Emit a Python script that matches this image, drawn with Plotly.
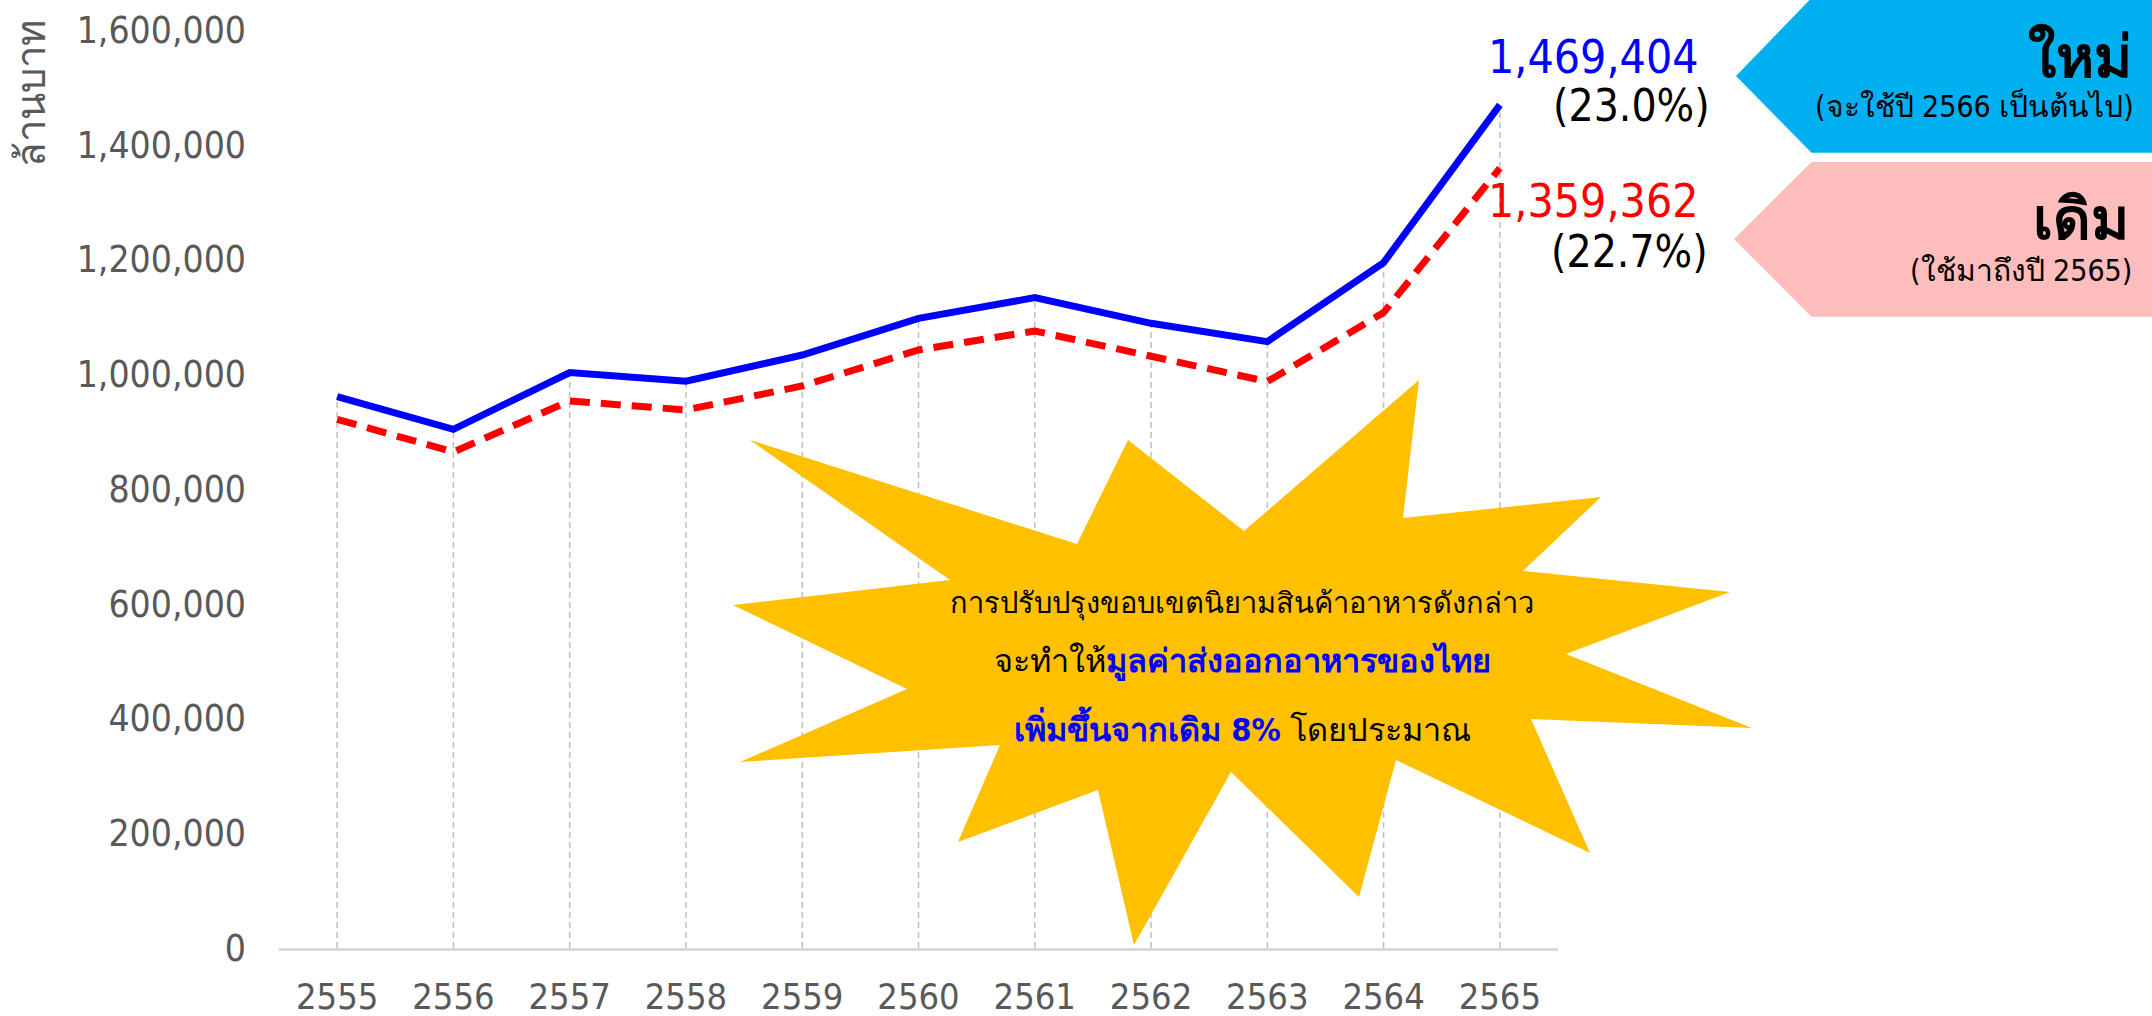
import plotly.graph_objects as go

# ---------------- data ----------------
years = ["2555", "2556", "2557", "2558", "2559", "2560", "2561", "2562", "2563", "2564", "2565"]
new_def = [961000, 904000, 1003000, 988000, 1033500, 1097500, 1133500, 1088800, 1056900, 1194600, 1469404]
old_def = [921500, 864500, 953500, 937800, 979600, 1042300, 1075400, 1030800, 987300, 1107500, 1359362]
y_ticks = [0, 200000, 400000, 600000, 800000, 1000000, 1200000, 1400000, 1600000]
y_title = "ล้านบาท"
new_label = "ใหม่"
new_sub = "(จะใช้ปี 2566 เป็นต้นไป)"
old_label = "เดิม"
old_sub = "(ใช้มาถึงปี 2565)"
star_line1 = "การปรับปรุงขอบเขตนิยามสินค้าอาหารดังกล่าว"
star_line2a = "จะทำให้"
star_line2b = "มูลค่าส่งออกอาหารของไทย"
star_line3a = "เพิ่มขึ้นจากเดิม 8%"
star_line3b = " โดยประมาณ"

# ---------------- layout geometry ----------------
W, H = 2152, 1016
PL, PR, PT, PB = 279, 1558, 30, 948  # plot area in pixels


def px(xp):
    return (xp - PL) / (PR - PL)


def py(yp):
    return (PB - yp) / (PB - PT)


FONT = "DejaVu Sans Condensed, DejaVu Sans, Noto Sans, sans-serif"
GRAY = "#595959"

fig = go.Figure()

# drop lines (from axis up to highest series)
dx, dy = [], []
for yr, a, b in zip(years, new_def, old_def):
    dx += [yr, yr, None]
    dy += [0, max(a, b), None]
fig.add_trace(go.Scatter(x=dx, y=dy, mode="lines", hoverinfo="skip",
                         line=dict(color="#BFBFBF", width=1.5, dash="6px,4px"),
                         showlegend=False))

fig.add_trace(go.Scatter(x=years, y=old_def, mode="lines", hoverinfo="skip",
                         line=dict(color="#FF0000", width=7, dash="20px,11px"),
                         showlegend=False))
fig.add_trace(go.Scatter(x=years, y=new_def, mode="lines", hoverinfo="skip",
                         line=dict(color="#0000FF", width=7),
                         showlegend=False))

# end labels
last = len(years) - 1
g_new = new_def[-1] / new_def[-2] - 1
g_old = old_def[-1] / old_def[-2] - 1
annos = [
    dict(x=last, y=new_def[-1], text=f"{new_def[-1]:,}", xanchor="right", yanchor="middle",
         xshift=201, yshift=48, font=dict(size=46, color="#0000FF", family=FONT)),
    dict(x=last, y=new_def[-1], text=f"({g_new*100:.1f}%)", xanchor="right", yanchor="middle",
         xshift=212, yshift=-1, font=dict(size=44, color="#000000", family=FONT)),
    dict(x=last, y=old_def[-1], text=f"{old_def[-1]:,}", xanchor="right", yanchor="middle",
         xshift=201, yshift=-33, font=dict(size=46, color="#FF0000", family=FONT)),
    dict(x=last, y=old_def[-1], text=f"({g_old*100:.1f}%)", xanchor="right", yanchor="middle",
         xshift=210, yshift=-83, font=dict(size=44, color="#000000", family=FONT)),
]
for a in annos:
    a.update(showarrow=False, xref="x", yref="y")
    fig.add_annotation(**a)

# y-axis title (rotated, top-left)
fig.add_annotation(x=px(31), y=py(93), xref="paper", yref="paper", text=y_title, textangle=-90,
                   showarrow=False, xanchor="center", yanchor="middle",
                   font=dict(size=40, color=GRAY, family=FONT))

# starburst
star_pts = [(750, 440), (1077, 544), (1128, 440), (1244, 531), (1419, 380), (1403, 518),
            (1601, 497), (1523, 571), (1730, 592), (1566, 654), (1752, 728), (1531, 719),
            (1590, 853), (1396, 760), (1359, 897), (1231, 772), (1134, 945), (1098, 790),
            (958, 842), (1000, 745), (740, 762), (907, 689), (733, 605), (950, 580)]
path = "M " + " L ".join(f"{px(x):.5f},{py(y):.5f}" for x, y in star_pts) + " Z"
fig.add_shape(type="path", path=path, xref="paper", yref="paper",
              fillcolor="#FFC000", line=dict(width=0), layer="above")

# banners
def banner(tip, top, bot, color):
    pts = [(tip[0], tip[1]), (1811.5, top), (W + 2, top), (W + 2, bot), (1811.5, bot)]
    p = "M " + " L ".join(f"{px(x):.5f},{py(y):.5f}" for x, y in pts) + " Z"
    fig.add_shape(type="path", path=p, xref="paper", yref="paper",
                  fillcolor=color, line=dict(width=0), layer="above")

banner((1736, 76), -2, 152.7, "#00B0F0")
banner((1734, 239), 162, 316.7, "#FDBDBD")

for txt, xr, yc, size, bold in [(new_label, 2134, 57, 58, True), (new_sub, 2136, 106, 30, False),
                                (old_label, 2131, 219, 58, True), (old_sub, 2134, 270, 30, False)]:
    fig.add_annotation(x=px(xr), y=py(yc), xref="paper", yref="paper",
                       text=f"<b>{txt}</b>" if bold else txt, showarrow=False,
                       xanchor="right", yanchor="middle",
                       font=dict(size=size, color="#000000", family=FONT))

# star text
cx = px(1242)
fig.add_annotation(x=cx, y=py(603), xref="paper", yref="paper", text=star_line1, showarrow=False,
                   xanchor="center", yanchor="middle", font=dict(size=29, color="#000000", family=FONT))
fig.add_annotation(x=cx, y=py(662), xref="paper", yref="paper",
                   text=f"{star_line2a}<span style='color:#0000FF'><b>{star_line2b}</b></span>",
                   showarrow=False, xanchor="center", yanchor="middle",
                   font=dict(size=32.5, color="#000000", family=FONT))
fig.add_annotation(x=cx, y=py(727), xref="paper", yref="paper",
                   text=f"<span style='color:#0000FF'><b>{star_line3a}</b></span>{star_line3b}",
                   showarrow=False, xanchor="center", yanchor="middle",
                   font=dict(size=32.5, color="#000000", family=FONT))

fig.update_layout(
    width=W, height=H,
    margin=dict(l=PL, r=W - PR, t=PT, b=H - PB, autoexpand=False),
    paper_bgcolor="white", plot_bgcolor="white",
    showlegend=False, hovermode=False,
    xaxis=dict(type="category", categoryorder="array", categoryarray=years,
               range=[-0.5, len(years) - 0.5], showgrid=False, zeroline=False,
               showline=True, linecolor="#D9D9D9", linewidth=2.5, ticks="",
               ticklabelstandoff=15,
               tickfont=dict(size=36, color=GRAY, family=FONT)),
    yaxis=dict(range=[0, 1600000], tickvals=y_ticks, tickformat=",", showgrid=False,
               zeroline=False, showline=False, ticks="", ticklabelstandoff=32,
               tickfont=dict(size=37, color=GRAY, family=FONT)),
)

fig.write_html("out.html", config={"displayModeBar": False},
               post_script="document.body.style.margin='0';")
